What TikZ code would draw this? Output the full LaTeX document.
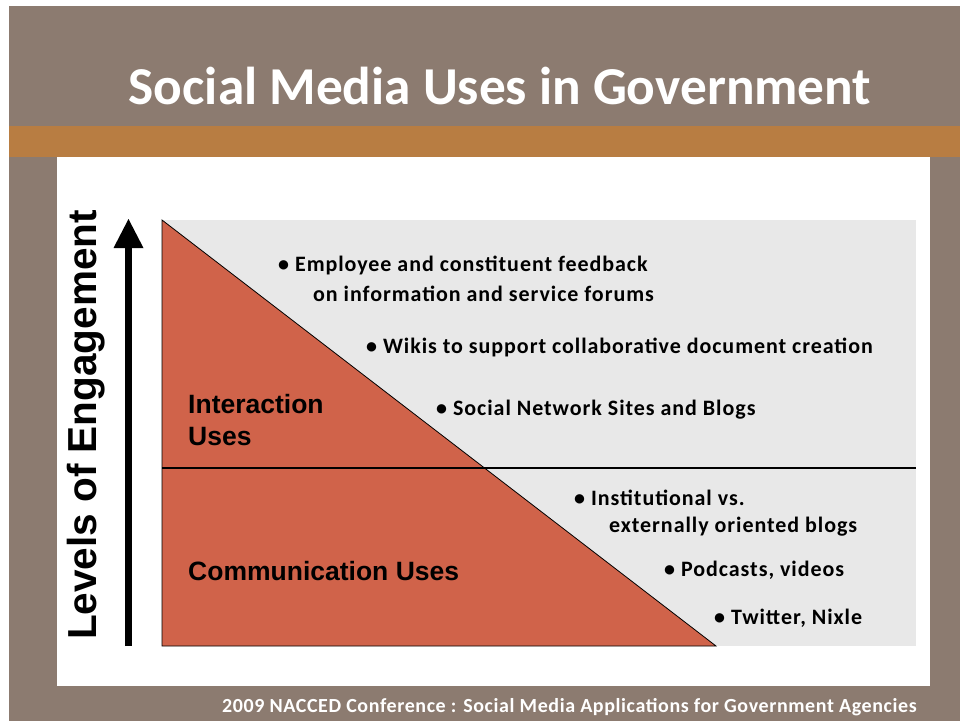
\documentclass[tikz,border=0pt]{standalone}
\usepackage{fontspec}
\setmainfont{Carlito}
\newfontfamily\arialb{Liberation Sans}[BoldFont=* Bold]
\newfontfamily\spaced{Carlito}[LetterSpace=4.3]
\newfontfamily\footfont{Carlito}[LetterSpace=3]
\definecolor{frame}{RGB}{140,123,112}
\definecolor{strip}{RGB}{184,125,66}
\definecolor{brick}{RGB}{208,99,74}
\definecolor{pale}{RGB}{232,232,232}
\tikzset{
  bul/.style={anchor=west, inner sep=0pt, font=\spaced\bfseries\fontsize{22}{26}\selectfont, text=black},
  lab/.style={anchor=west, inner sep=0pt, font=\arialb\bfseries\fontsize{26.5}{32}\selectfont, text=black, align=left},
}
\begin{document}
\begin{tikzpicture}[x=1pt,y=-1pt]
\useasboundingbox (0,0) rectangle (960,721);
\fill[white] (0,0) rectangle (960,721);
\fill[frame] (9,6) rectangle (960,721);
\fill[strip] (9,126) rectangle (960,157);
\fill[white] (57,157) rectangle (930,686);
% title
\node[text=white, font=\bfseries\fontsize{53.3}{60}\selectfont, inner sep=0pt] (title) at (500,86) {Social Media Uses in Government};
% footer
\node[text=white, font=\footfont\bfseries\fontsize{20}{24}\selectfont, inner sep=0pt, anchor=east] (footer) at (917,707) {2009 NACCED Conference : Social Media Applications for Government Agencies};
% panel
\fill[pale] (162,220) rectangle (916,646);
\filldraw[fill=brick, draw=black, line width=0.8pt] (162,220) -- (716,646) -- (162,646) -- cycle;
\coordinate (divl) at (162,468);
\coordinate (divr) at (916,468);
\draw[line width=2pt] (divl) -- (divr);
% arrow
\coordinate (arrb) at (128.5,646);
\coordinate (arrt) at (128.5,246);
\draw[line width=7.5pt] (arrb) -- (arrt);
\fill (113.5,248) -- (143.5,248) -- (128.5,219) -- cycle;
\node[rotate=90, font=\arialb\bfseries\fontsize{40.5}{44}\selectfont, inner sep=0pt] (axis) at (86,425) {Levels of Engagement};
% labels
\node[lab] (inter) at (188,420) {Interaction\\Uses};
\node[lab] (comm) at (188,571) {Communication Uses};
% bullets
\node[bul] (b1) at (278,265) {\textbullet\ Employee and constituent feedback};
\node[bul] (b1b) at (313,294) {on information and service forums};
\node[bul] (b2) at (366,347) {\textbullet\ Wikis to support collaborative document creation};
\node[bul] (b3) at (436,410) {\textbullet\ Social Network Sites and Blogs};
\node[bul] (b4) at (574,498) {\textbullet\ Institutional vs.};
\node[bul] (b4b) at (609,527) {externally oriented blogs};
\node[bul] (b5) at (664,570) {\textbullet\ Podcasts, videos};
\node[bul] (b6) at (714,618) {\textbullet\ Twitter, Nixle};
\end{tikzpicture}
\end{document}
